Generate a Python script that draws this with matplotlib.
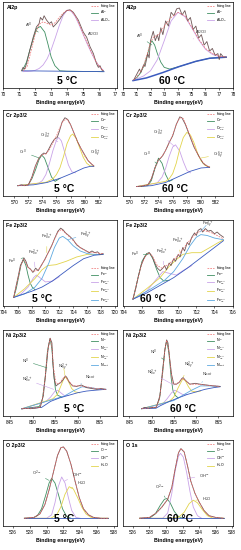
import matplotlib.pyplot as plt

plt.rcParams['font.family'] = ['Liberation Sans', 'DejaVu Sans']

# ---------------- Al2p, 5 C ----------------
al5_spec_x = [71.15, 71.25, 71.35, 71.46, 71.67, 71.88, 72.08, 72.25, 72.33, 72.46, 72.56, 72.71, 72.88, 73.02, 73.13,
              73.33, 73.54, 73.75, 73.96, 74.17, 74.38, 74.69, 75.0, 75.21, 75.42, 75.63, 75.83, 75.94, 76.04, 76.15, 76.25]
al5_spec = [0.20, 0.24, 0.22, 0.28, 0.44, 0.59, 0.71, 0.75, 0.82, 0.79, 0.84, 0.79, 0.75, 0.77, 0.71,
            0.75, 0.80, 0.86, 0.90, 0.91, 0.88, 0.79, 0.65, 0.59, 0.48, 0.40, 0.28, 0.24, 0.26, 0.21, 0.20]
al5_fit_x = [71.25, 71.5, 71.75, 72.0, 72.25, 72.5, 72.75, 73.0, 73.25, 73.5, 73.75, 74.0, 74.25, 74.5, 74.75,
             75.0, 75.25, 75.5, 75.75, 76.0, 76.25]
al5_fit = [0.20, 0.25, 0.43, 0.62, 0.74, 0.77, 0.75, 0.73, 0.76, 0.82, 0.87, 0.905, 0.90, 0.84, 0.74,
           0.63, 0.52, 0.42, 0.32, 0.25, 0.20]
al5_c1_x = [71.2, 71.46, 71.67, 71.88, 72.08, 72.33, 72.6, 72.8, 73.0, 73.23, 73.54, 73.96, 76.25]
al5_c1 = [0.20, 0.30, 0.44, 0.57, 0.69, 0.716, 0.65, 0.51, 0.36, 0.26, 0.20, 0.195, 0.19]
al5_c2_x = al5_fit_x
al5_c2 = [0.19, 0.192, 0.196, 0.205, 0.227, 0.268, 0.34, 0.445, 0.58, 0.723, 0.844, 0.906, 0.892, 0.83, 0.73,
          0.62, 0.51, 0.41, 0.32, 0.25, 0.205]
al5_bg_x = [71.2, 76.3]
al5_bg = [0.20, 0.19]

# ---------------- Al2p, 60 C ----------------
al60_spec_x = [70.8, 71.0, 71.2, 71.3, 71.5, 71.6, 71.8, 71.9, 72.0, 72.2, 72.35, 72.5, 72.6, 72.75, 72.9, 73.1, 73.3,
               73.5, 73.7, 73.9, 74.1, 74.3, 74.5, 74.7, 74.9, 75.1, 75.3, 75.5, 75.7, 75.9, 76.1, 76.3, 76.5, 76.7,
               76.9, 77.0, 77.1, 77.3, 77.5]
al60_spec = [0.10, 0.16, 0.22, 0.18, 0.27, 0.25, 0.40, 0.35, 0.55, 0.66, 0.55, 0.62, 0.55, 0.70, 0.62, 0.78, 0.72,
             0.88, 0.84, 0.92, 0.93, 0.85, 0.90, 0.78, 0.82, 0.68, 0.72, 0.58, 0.62, 0.50, 0.54, 0.43, 0.46, 0.38,
             0.40, 0.33, 0.40, 0.36, 0.36]
al60_fit_x = [70.75, 71.0, 71.25, 71.5, 71.75, 72.0, 72.25, 72.5, 72.75, 73.0, 73.5, 74.0, 74.5, 75.0, 75.5, 76.0,
              76.5, 77.0, 77.5]
al60_fit = [0.09, 0.13, 0.18, 0.26, 0.39, 0.53, 0.60, 0.61, 0.65, 0.72, 0.82, 0.88, 0.84, 0.71, 0.57, 0.46,
            0.40, 0.37, 0.36]
al60_c1_x = [70.75, 71.0, 71.25, 71.5, 71.75, 72.0, 72.1, 72.3, 72.5, 72.75, 73.0, 73.4, 74.1, 75.3, 76.3, 77.5]
al60_c1 = [0.09, 0.12, 0.17, 0.25, 0.37, 0.52, 0.55, 0.50, 0.40, 0.30, 0.24, 0.22, 0.25, 0.31, 0.346, 0.358]
al60_c2_x = [70.75, 71.5, 72.0, 72.5, 73.0, 73.5, 74.0, 74.5, 75.0, 75.5, 76.0, 76.5, 77.0, 77.5]
al60_c2 = [0.09, 0.14, 0.20, 0.33, 0.55, 0.78, 0.88, 0.83, 0.70, 0.56, 0.45, 0.39, 0.365, 0.36]
al60_bg_x = [70.73, 71.7, 72.9, 74.1, 75.3, 76.3, 77.5]
al60_bg = [0.086, 0.117, 0.18, 0.25, 0.31, 0.346, 0.358]

# ---------------- Cr 2p3/2, 5 C ----------------
cr5_spec_x = [570.5, 571.0, 571.5, 572.0, 572.5, 573.0, 573.5, 573.9, 574.2, 574.5, 574.8, 575.3, 575.7, 576.1,
              576.4, 576.8, 577.2, 577.6, 578.0, 578.5, 579.0, 579.5, 580.0, 580.5, 581.0, 581.3]
cr5_spec = [0.12, 0.13, 0.12, 0.13, 0.22, 0.35, 0.44, 0.48, 0.50, 0.49, 0.53, 0.61, 0.66, 0.68,
            0.75, 0.86, 0.91, 0.89, 0.83, 0.73, 0.63, 0.55, 0.48, 0.41, 0.37, 0.35]
cr5_fit_x = [570.5, 571.5, 572.0, 572.5, 573.0, 573.5, 574.0, 574.5, 575.0, 575.5, 576.0, 576.5, 577.0, 577.5,
             578.0, 578.5, 579.0, 579.5, 580.0, 580.5, 581.3]
cr5_fit = [0.12, 0.12, 0.13, 0.21, 0.34, 0.44, 0.48, 0.49, 0.54, 0.62, 0.70, 0.80, 0.88, 0.89,
           0.83, 0.73, 0.63, 0.55, 0.47, 0.41, 0.35]
cr5_c1_x = [570.5, 572.0, 572.5, 573.0, 573.5, 573.9, 574.3, 574.8, 575.3, 575.8, 576.5]
cr5_c1 = [0.12, 0.13, 0.20, 0.30, 0.42, 0.476, 0.44, 0.33, 0.22, 0.17, 0.206]
cr5_c2_x = [570.5, 573.5, 574.0, 574.5, 575.0, 575.5, 576.0, 576.3, 576.7, 577.2, 577.7, 578.2, 578.7]
cr5_c2 = [0.12, 0.15, 0.18, 0.25, 0.38, 0.53, 0.65, 0.68, 0.64, 0.50, 0.36, 0.28, 0.27]
cr5_c3_x = [570.5, 574.5, 575.0, 575.5, 576.0, 576.5, 577.0, 577.5, 578.0, 578.3, 578.8, 579.3, 579.8, 580.3,
            580.8, 581.3]
cr5_c3 = [0.12, 0.16, 0.18, 0.20, 0.25, 0.33, 0.46, 0.61, 0.70, 0.72, 0.67, 0.56, 0.45, 0.38, 0.35, 0.345]
cr5_bg_x = [570.5, 572.75, 574.65, 576.5, 578.4, 579.9, 580.8, 581.3]
cr5_bg = [0.12, 0.13, 0.157, 0.206, 0.27, 0.326, 0.345, 0.345]

# ---------------- Cr 2p3/2, 60 C ----------------
cr60_spec_x = [570.9, 571.5, 572.0, 572.5, 573.0, 573.5, 574.0, 574.3, 574.6, 575.0, 575.5, 576.0, 576.5, 577.0,
               577.3, 577.8, 578.3, 579.0, 579.7, 580.3, 580.8, 581.2]
cr60_spec = [0.11, 0.11, 0.12, 0.13, 0.20, 0.33, 0.42, 0.44, 0.47, 0.53, 0.62, 0.70, 0.83, 0.92,
             0.91, 0.83, 0.72, 0.57, 0.46, 0.38, 0.35, 0.335]
cr60_fit_x = [570.9, 572.0, 572.5, 573.0, 573.5, 574.0, 574.5, 575.0, 575.5, 576.0, 576.5, 577.0, 577.5, 578.0,
              578.5, 579.0, 579.5, 580.0, 580.5, 581.2]
cr60_fit = [0.11, 0.12, 0.13, 0.20, 0.32, 0.42, 0.46, 0.53, 0.62, 0.71, 0.83, 0.91, 0.90, 0.80,
            0.69, 0.58, 0.49, 0.42, 0.37, 0.335]
cr60_c1_x = [570.9, 572.5, 573.0, 573.5, 574.0, 574.5, 575.0, 575.5, 576.0]
cr60_c1 = [0.11, 0.12, 0.18, 0.32, 0.44, 0.38, 0.25, 0.17, 0.19]
cr60_c2_x = [570.9, 573.8, 574.5, 575.0, 575.5, 576.0, 576.4, 577.0, 577.5, 578.0, 578.5]
cr60_c2 = [0.11, 0.15, 0.22, 0.32, 0.46, 0.57, 0.595, 0.52, 0.40, 0.30, 0.27]
cr60_c3_x = [570.9, 575.0, 575.5, 576.0, 576.5, 577.0, 577.5, 578.0, 578.5, 579.0, 579.5, 580.0, 580.5, 581.2]
cr60_c3 = [0.11, 0.17, 0.20, 0.26, 0.38, 0.55, 0.68, 0.74, 0.71, 0.62, 0.50, 0.41, 0.36, 0.335]
cr60_bg_x = [570.9, 573.0, 575.0, 577.0, 578.5, 580.0, 581.2]
cr60_bg = [0.11, 0.12, 0.157, 0.232, 0.288, 0.326, 0.333]

# ---------------- Fe 2p3/2, 5 C ----------------
fe5_spec_x = [705.44, 705.8, 706.1, 706.4, 706.7, 706.9, 707.2, 707.5, 707.85, 708.2, 708.6, 708.95, 709.4, 709.9,
              710.4, 710.9, 711.35, 711.8, 712.2, 712.55, 712.9, 713.5, 714.0, 714.5, 715.0, 715.45, 715.9, 716.3,
              716.7, 717.1, 717.5, 717.85, 718.3]
fe5_spec = [0.10, 0.24, 0.35, 0.47, 0.52, 0.56, 0.52, 0.45, 0.43, 0.39, 0.44, 0.41, 0.47, 0.54,
            0.62, 0.70, 0.79, 0.87, 0.905, 0.885, 0.85, 0.81, 0.77, 0.71, 0.68, 0.66, 0.64, 0.62,
            0.64, 0.62, 0.63, 0.60, 0.61]
fe5_fit_x = [705.44, 706.0, 706.5, 706.9, 707.5, 708.2, 709.0, 710.0, 711.0, 711.8, 712.3, 713.0, 714.0, 715.0,
             716.0, 717.0, 718.3]
fe5_fit = [0.10, 0.30, 0.48, 0.54, 0.45, 0.40, 0.42, 0.55, 0.72, 0.86, 0.89, 0.84, 0.76, 0.68, 0.63, 0.62, 0.61]
fe5_c1_x = [705.44, 705.8, 706.2, 706.5, 706.85, 707.2, 707.5, 707.8, 708.1, 708.5]
fe5_c1 = [0.10, 0.20, 0.36, 0.48, 0.54, 0.47, 0.36, 0.27, 0.22, 0.19]
fe5_c2_x = [705.44, 706.5, 707.5, 708.3, 708.7, 709.2, 710.0, 711.0, 712.0]
fe5_c2 = [0.10, 0.14, 0.22, 0.33, 0.36, 0.33, 0.28, 0.29, 0.34]
fe5_c3_x = [705.44, 707.0, 708.5, 709.5, 710.3, 711.5, 713.0, 714.5, 716.0, 718.3]
fe5_c3 = [0.10, 0.20, 0.32, 0.42, 0.47, 0.48, 0.52, 0.57, 0.60, 0.60]
fe5_c4_x = [705.44, 707.0, 708.5, 709.5, 710.5, 711.3, 712.0, 712.5, 713.2, 714.0, 715.0, 716.0, 717.0, 718.3]
fe5_c4 = [0.10, 0.14, 0.22, 0.32, 0.50, 0.68, 0.79, 0.81, 0.77, 0.70, 0.64, 0.61, 0.60, 0.60]
fe5_bg_x = [705.44, 706.5, 708.0, 709.5, 711.0, 712.5, 714.0, 715.5, 717.0, 718.3]
fe5_bg = [0.10, 0.13, 0.17, 0.22, 0.29, 0.38, 0.47, 0.55, 0.59, 0.60]

# ---------------- Fe 2p3/2, 60 C ----------------
fe60_spec_x = [705.0, 705.3, 705.6, 705.9, 706.2, 706.5, 706.8, 707.1, 707.4, 707.7, 708.0, 708.3, 708.5, 708.7,
               709.0, 709.2, 709.5, 709.7, 710.0, 710.2, 710.5, 710.7, 711.0, 711.2, 711.5, 711.8, 712.0, 712.2,
               712.5, 712.7, 713.0, 713.3, 713.6, 714.0, 714.3, 714.6, 715.0]
fe60_spec = [0.08, 0.20, 0.35, 0.47, 0.55, 0.60, 0.62, 0.58, 0.50, 0.44, 0.41, 0.44, 0.47, 0.42,
             0.50, 0.47, 0.55, 0.52, 0.60, 0.57, 0.68, 0.64, 0.74, 0.71, 0.80, 0.85, 0.82, 0.88,
             0.90, 0.86, 0.90, 0.87, 0.88, 0.84, 0.86, 0.83, 0.80]
fe60_fit_x = [705.0, 705.5, 706.0, 706.5, 706.8, 707.2, 707.7, 708.2, 709.0, 710.0, 711.0, 712.0, 712.7, 713.5,
              714.3, 715.0]
fe60_fit = [0.08, 0.30, 0.50, 0.60, 0.62, 0.57, 0.47, 0.44, 0.49, 0.59, 0.73, 0.85, 0.88, 0.86, 0.82, 0.78]
fe60_c1_x = [705.0, 705.5, 706.0, 706.5, 706.8, 707.2, 707.6, 708.0, 708.4, 709.0]
fe60_c1 = [0.08, 0.30, 0.52, 0.61, 0.62, 0.55, 0.43, 0.33, 0.29, 0.30]
fe60_c2_x = [705.0, 706.5, 707.5, 708.3, 709.0, 709.8, 710.5, 711.5]
fe60_c2 = [0.08, 0.17, 0.30, 0.40, 0.38, 0.36, 0.41, 0.47]
fe60_c3_x = [705.0, 706.5, 708.0, 709.0, 709.8, 710.5, 711.5, 712.5, 713.5, 714.3, 715.0]
fe60_c3 = [0.08, 0.20, 0.33, 0.46, 0.54, 0.60, 0.62, 0.62, 0.68, 0.73, 0.77]
fe60_c4_x = [705.0, 707.0, 708.5, 709.5, 710.5, 711.3, 712.0, 712.5, 713.2, 714.0, 715.0]
fe60_c4 = [0.08, 0.20, 0.30, 0.40, 0.55, 0.70, 0.80, 0.83, 0.82, 0.79, 0.77]
fe60_bg_x = [705.0, 706.5, 708.0, 709.5, 711.0, 712.5, 714.0, 715.0]
fe60_bg = [0.08, 0.15, 0.24, 0.33, 0.44, 0.56, 0.68, 0.76]

# ---------------- Ni 2p3/2, 5 C ----------------
ni5_spec_x = [847.6, 848.5, 849.5, 850.5, 851.7, 852.4, 853.0, 853.5, 853.9, 854.3, 854.5, 854.8, 855.2, 855.7,
              856.3, 856.9, 857.3, 857.6, 858.2, 858.9, 859.8, 860.9, 862.0, 863.1, 864.3, 865.2, 866.3]
ni5_spec = [0.084, 0.09, 0.085, 0.09, 0.10, 0.24, 0.54, 0.81, 0.905, 0.85, 0.62, 0.43, 0.35, 0.37,
            0.39, 0.43, 0.466, 0.45, 0.39, 0.35, 0.344, 0.36, 0.33, 0.32, 0.31, 0.32, 0.31]
ni5_fit_x = [847.6, 851.5, 852.2, 852.8, 853.3, 853.9, 854.3, 854.7, 855.2, 856.0, 856.8, 857.3, 858.0, 859.0,
             860.5, 862.0, 864.0, 866.3]
ni5_fit = [0.084, 0.10, 0.20, 0.45, 0.75, 0.90, 0.80, 0.55, 0.38, 0.38, 0.44, 0.46, 0.41, 0.35,
           0.35, 0.34, 0.32, 0.31]
ni5_c1_x = [847.6, 851.5, 852.2, 852.8, 853.3, 853.9, 854.3, 854.7, 855.1, 855.6, 856.5]
ni5_c1 = [0.084, 0.11, 0.20, 0.45, 0.75, 0.90, 0.78, 0.50, 0.30, 0.24, 0.22]
ni5_c2_x = [847.6, 853.0, 854.0, 855.0, 855.6, 856.3, 857.0, 858.0]
ni5_c2 = [0.084, 0.17, 0.22, 0.29, 0.30, 0.27, 0.24, 0.24]
ni5_c3_x = [847.6, 854.5, 855.5, 856.3, 857.0, 857.4, 858.0, 858.7, 859.5, 860.5]
ni5_c3 = [0.084, 0.20, 0.25, 0.35, 0.44, 0.45, 0.40, 0.32, 0.28, 0.27]
ni5_c4_x = [847.6, 855.0, 857.0, 859.0, 861.0, 863.0, 865.0, 866.3]
ni5_c4 = [0.084, 0.20, 0.23, 0.29, 0.34, 0.33, 0.31, 0.31]
ni5_bg_x = [847.6, 852.0, 854.0, 856.0, 858.0, 860.0, 862.0, 864.0, 866.3]
ni5_bg = [0.084, 0.10, 0.17, 0.21, 0.24, 0.27, 0.29, 0.30, 0.31]

# ---------------- Ni 2p3/2, 60 C ----------------
ni60_spec_x = [847.8, 848.5, 849.3, 850.2, 851.1, 851.9, 852.5, 853.0, 853.4, 853.7, 854.1, 854.5, 855.0, 855.6,
               856.2, 856.8, 857.1, 857.7, 858.6, 859.8, 860.9, 862.4, 863.9, 865.4]
ni60_spec = [0.085, 0.10, 0.09, 0.10, 0.10, 0.24, 0.54, 0.77, 0.885, 0.85, 0.66, 0.485, 0.37, 0.37,
             0.39, 0.435, 0.447, 0.41, 0.37, 0.38, 0.37, 0.36, 0.35, 0.344]
ni60_fit_x = [847.8, 851.0, 851.8, 852.5, 853.0, 853.4, 853.9, 854.4, 854.8, 855.5, 856.3, 857.0, 857.7, 858.6,
              860.0, 862.0, 865.4]
ni60_fit = [0.085, 0.10, 0.20, 0.50, 0.77, 0.88, 0.76, 0.50, 0.38, 0.37, 0.40, 0.44, 0.41, 0.37, 0.37, 0.36, 0.344]
ni60_c1_x = [847.8, 851.0, 851.8, 852.5, 853.0, 853.4, 853.9, 854.4, 854.8, 855.3, 856.0]
ni60_c1 = [0.085, 0.10, 0.20, 0.50, 0.77, 0.88, 0.74, 0.45, 0.30, 0.24, 0.21]
ni60_c2_x = [847.8, 852.5, 853.5, 854.5, 855.2, 856.0, 857.0, 858.0]
ni60_c2 = [0.085, 0.14, 0.20, 0.27, 0.30, 0.28, 0.25, 0.25]
ni60_c3_x = [847.8, 854.0, 855.0, 856.0, 857.0, 857.6, 858.3, 859.0, 860.0, 861.0]
ni60_c3 = [0.085, 0.17, 0.22, 0.33, 0.43, 0.41, 0.34, 0.29, 0.28, 0.29]
ni60_c4_x = [847.8, 855.0, 857.0, 859.0, 861.0, 863.0, 865.4]
ni60_c4 = [0.085, 0.18, 0.24, 0.30, 0.35, 0.35, 0.344]
ni60_bg_x = [847.8, 851.0, 852.0, 854.0, 856.0, 858.0, 860.0, 862.0, 864.0, 865.4]
ni60_bg = [0.085, 0.09, 0.12, 0.17, 0.21, 0.25, 0.28, 0.31, 0.33, 0.34]

# ---------------- O, 5 C ----------------
o5_spec_x = [527.35, 528.5, 529.2, 529.8, 530.3, 530.8, 531.3, 531.7, 532.0, 532.4, 532.9, 533.4, 533.9, 534.4,
             535.0, 535.6, 536.5, 537.35]
o5_spec = [0.09, 0.10, 0.14, 0.25, 0.42, 0.62, 0.82, 0.91, 0.92, 0.87, 0.72, 0.52, 0.33, 0.20,
           0.13, 0.10, 0.09, 0.09]
o5_c1_x = [527.35, 528.3, 528.9, 529.4, 529.9, 530.3, 530.6, 531.0, 531.4, 531.9, 532.4, 532.9]
o5_c1 = [0.09, 0.09, 0.12, 0.20, 0.36, 0.50, 0.554, 0.50, 0.37, 0.20, 0.11, 0.09]
o5_c2_x = [527.35, 530.0, 530.6, 531.0, 531.4, 531.8, 532.2, 532.6, 533.0, 533.5, 534.0]
o5_c2 = [0.09, 0.09, 0.13, 0.27, 0.46, 0.57, 0.50, 0.33, 0.18, 0.10, 0.09]
o5_c3_x = [527.35, 530.5, 531.2, 531.7, 532.2, 532.7, 533.2, 533.7, 534.2, 534.7, 535.3, 536.0, 537.35]
o5_c3 = [0.09, 0.09, 0.13, 0.22, 0.37, 0.457, 0.43, 0.33, 0.22, 0.14, 0.10, 0.09, 0.09]
o5_bg_x = [527.35, 537.35]
o5_bg = [0.09, 0.09]

# ---------------- O 1s, 60 C ----------------
o60_spec_x = [526.8, 528.0, 528.8, 529.5, 530.2, 530.7, 531.1, 531.5, 531.8, 532.2, 532.6, 533.0, 533.5, 534.0,
              534.6, 535.2, 536.0, 537.0]
o60_spec = [0.09, 0.10, 0.15, 0.22, 0.31, 0.45, 0.66, 0.85, 0.90, 0.86, 0.70, 0.52, 0.38, 0.28,
            0.18, 0.12, 0.10, 0.09]
o60_c1_x = [526.8, 528.0, 528.7, 529.3, 529.8, 530.1, 530.5, 531.0, 531.5, 532.0]
o60_c1 = [0.09, 0.09, 0.14, 0.24, 0.31, 0.32, 0.27, 0.17, 0.11, 0.09]
o60_c2_x = [526.8, 529.6, 530.2, 530.7, 531.1, 531.5, 531.75, 532.1, 532.5, 532.9, 533.3, 533.8, 534.3]
o60_c2 = [0.09, 0.09, 0.15, 0.38, 0.64, 0.81, 0.845, 0.80, 0.62, 0.40, 0.22, 0.12, 0.09]
o60_c3_x = [526.8, 530.5, 531.5, 532.2, 532.8, 533.3, 533.8, 534.4, 535.0, 535.7, 537.0]
o60_c3 = [0.09, 0.09, 0.10, 0.16, 0.26, 0.30, 0.27, 0.19, 0.12, 0.09, 0.09]
o60_bg_x = [526.8, 537.0]
o60_bg = [0.09, 0.09]

# labels
titles = ['Al2p', 'Al2p', 'Cr 2p3/2', 'Cr 2p3/2', 'Fe 2p3/2', 'Fe 2p3/2', 'Ni 2p3/2', 'Ni 2p3/2', 'O 2p3/2', 'O 1s']
temps = ['5 °C', '60 °C'] * 5
al_names = ['fitting line', 'Al$^{0}$', 'Al$_2$O$_3$']
cr_names = ['fitting line', 'Cr$^{0}$', 'Cr$^{3+}_{ox}$', 'Cr$^{3+}_{hy}$']
fe_names = ['fitting line', 'Fe$^{0}$', 'Fe$^{2+}_{ox}$', 'Fe$^{3+}_{ox}$', 'Fe$^{3+}_{hy}$']
ni_names = ['fitting line', 'Ni$^{0}$', 'Ni$^{2+}_{ox}$', 'Ni$^{2+}_{hy}$', 'Ni$_{sat}$']
o_names = ['fitting line', 'O$^{2-}$', 'OH$^{-}$', 'H$_2$O']
al_ticks = [70, 71, 72, 73, 74, 75, 76, 77, 78]
cr_ticks = [570, 572, 574, 576, 578, 580, 582]
fe_ticks = [704, 706, 708, 710, 712, 714, 716, 718, 720]
ni_ticks = [845, 850, 855, 860, 865]
o_ticks = [526, 528, 530, 532, 534, 536, 538]

panels = [
    dict(spec=(al5_spec_x, al5_spec), fit=(al5_fit_x, al5_fit), bg=(al5_bg_x, al5_bg),
         comps=[(al5_c1_x, al5_c1), (al5_c2_x, al5_c2)], names=al_names, ticks=al_ticks),
    dict(spec=(al60_spec_x, al60_spec), fit=(al60_fit_x, al60_fit), bg=(al60_bg_x, al60_bg),
         comps=[(al60_c1_x, al60_c1), (al60_c2_x, al60_c2)], names=al_names, ticks=al_ticks),
    dict(spec=(cr5_spec_x, cr5_spec), fit=(cr5_fit_x, cr5_fit), bg=(cr5_bg_x, cr5_bg),
         comps=[(cr5_c1_x, cr5_c1), (cr5_c2_x, cr5_c2), (cr5_c3_x, cr5_c3)], names=cr_names, ticks=cr_ticks),
    dict(spec=(cr60_spec_x, cr60_spec), fit=(cr60_fit_x, cr60_fit), bg=(cr60_bg_x, cr60_bg),
         comps=[(cr60_c1_x, cr60_c1), (cr60_c2_x, cr60_c2), (cr60_c3_x, cr60_c3)], names=cr_names, ticks=cr_ticks),
    dict(spec=(fe5_spec_x, fe5_spec), fit=(fe5_fit_x, fe5_fit), bg=(fe5_bg_x, fe5_bg),
         comps=[(fe5_c1_x, fe5_c1), (fe5_c2_x, fe5_c2), (fe5_c3_x, fe5_c3), (fe5_c4_x, fe5_c4)],
         names=fe_names, ticks=fe_ticks),
    dict(spec=(fe60_spec_x, fe60_spec), fit=(fe60_fit_x, fe60_fit), bg=(fe60_bg_x, fe60_bg),
         comps=[(fe60_c1_x, fe60_c1), (fe60_c2_x, fe60_c2), (fe60_c3_x, fe60_c3), (fe60_c4_x, fe60_c4)],
         names=fe_names, ticks=fe_ticks),
    dict(spec=(ni5_spec_x, ni5_spec), fit=(ni5_fit_x, ni5_fit), bg=(ni5_bg_x, ni5_bg),
         comps=[(ni5_c1_x, ni5_c1), (ni5_c2_x, ni5_c2), (ni5_c3_x, ni5_c3), (ni5_c4_x, ni5_c4)],
         names=ni_names, ticks=ni_ticks),
    dict(spec=(ni60_spec_x, ni60_spec), fit=(ni60_fit_x, ni60_fit), bg=(ni60_bg_x, ni60_bg),
         comps=[(ni60_c1_x, ni60_c1), (ni60_c2_x, ni60_c2), (ni60_c3_x, ni60_c3), (ni60_c4_x, ni60_c4)],
         names=ni_names, ticks=ni_ticks),
    dict(spec=(o5_spec_x, o5_spec), fit=(o5_spec_x, o5_spec), bg=(o5_bg_x, o5_bg),
         comps=[(o5_c1_x, o5_c1), (o5_c2_x, o5_c2), (o5_c3_x, o5_c3)], names=o_names, ticks=o_ticks),
    dict(spec=(o60_spec_x, o60_spec), fit=(o60_spec_x, o60_spec), bg=(o60_bg_x, o60_bg),
         comps=[(o60_c1_x, o60_c1), (o60_c2_x, o60_c2), (o60_c3_x, o60_c3)], names=o_names, ticks=o_ticks),
]

# ---- layout / style ----
xlims = [(70, 77.1), (70, 78), (568.4, 584.6), (569, 584.5), (703.9, 720.3), (703.9, 716.05),
         (843.4, 868.8), (843.6, 868.3), (524.8, 538.4), (524.8, 538.1)]
temp_x = [0.56, 0.45, 0.54, 0.47, 0.34, 0.27, 0.62, 0.55, 0.54, 0.52]
leg_loc = ['upper right'] * 4 + ['lower right'] * 2 + ['upper right'] * 4
comp_colors = ['#3f8f62', '#c9a3e8', '#e2d44c', '#5ea9e0']
notes = [
    [('Al$^{0}$', (71.6, 0.73), (72.2, 0.65), 0), ('Al$_2$O$_3$', (75.6, 0.62), (74.95, 0.68), 1)],
    [('Al$^{0}$', (71.2, 0.6), (72.1, 0.5), 0), ('Al$_2$O$_3$', (75.7, 0.65), (75.1, 0.57), 1)],
    [('Cr$^{0}$', (571.3, 0.51), (573.6, 0.44), 0), ('Cr$^{3+}_{ox}$', (574.5, 0.70), (576.2, 0.63), 1),
     ('Cr$^{6+}_{hy}$', (581.5, 0.50), (579.9, 0.46), 2)],
    [('Cr$^{0}$', (572.4, 0.49), (573.8, 0.37), 0), ('Cr$^{3+}_{ox}$', (574.0, 0.74), (576.2, 0.58), 1),
     ('Cr$^{6+}_{hy}$', (582.4, 0.48), (579.9, 0.44), 2)],
    [('Fe$^{0}$', (705.3, 0.52), (706.8, 0.56), 0), ('Fe$^{2+}_{ox}$', (708.3, 0.62), (708.5, 0.45), 1),
     ('Fe$^{3+}_{ox}$', (710.2, 0.80), (710.2, 0.62), 2), ('Fe$^{3+}_{hy}$', (715.8, 0.83), (713.2, 0.77), 3)],
    [('Fe$^{0}$', (705.2, 0.6), (706.7, 0.6), 0), ('Fe$^{2+}_{ox}$', (708.2, 0.63), (708.4, 0.48), 1),
     ('Fe$^{3+}_{ox}$', (709.9, 0.76), (710.2, 0.63), 2), ('Fe$^{3+}_{hy}$', (713.2, 0.95), (712.4, 0.86), 3)],
    [('Ni$^{0}$', (848.4, 0.64), (853.2, 0.56), 0), ('Ni$^{2+}_{ox}$', (848.8, 0.42), (854.7, 0.31), 1),
     ('Ni$^{2+}_{hy}$', (856.9, 0.57), (857.2, 0.47), 2), ('Ni$_{sat}$', (862.9, 0.45), (860.7, 0.37), 3)],
    [('Ni$^{0}$', (850.5, 0.74), (852.9, 0.65), 0), ('Ni$^{2+}_{ox}$', (850.1, 0.5), (855.0, 0.36), 1),
     ('Ni$^{2+}_{hy}$', (858.4, 0.59), (857.1, 0.45), 2), ('Ni$_{sat}$', (862.6, 0.49), (861.3, 0.39), 3)],
    [('O$^{2-}$', (528.8, 0.61), (530.3, 0.53), 0), ('OH$^{-}$', (533.6, 0.6), (532.1, 0.52), 1),
     ('H$_2$O', (534.2, 0.5), (532.9, 0.44), 2)],
    [('O$^{2-}$', (529.2, 0.45), (529.9, 0.33), 0), ('OH$^{-}$', (534.6, 0.59), (532.6, 0.55), 1),
     ('H$_2$O', (535.0, 0.31), (533.6, 0.3), 2)],
]

W, H = 241, 550
fig = plt.figure(figsize=(W / 100, H / 100), dpi=100)
row_top = [2, 110, 220, 330, 440]
for i, p in enumerate(panels):
    r, c = divmod(i, 2)
    x0, w = (3, 114) if c == 0 else (123, 110)
    ax = fig.add_axes([x0 / W, 1 - (row_top[r] + 86) / H, w / W, 86 / H])
    handles = []
    for k, (cx, cy) in enumerate(p['comps']):
        h, = ax.plot(cx, cy, color=comp_colors[k], lw=0.6)
        handles.append(h)
    ax.plot(*p['bg'], color='#3b5bbf', lw=1.1 if i == 1 else 0.6)
    ax.plot(*p['spec'], color='#6e5656', lw=0.6)
    hf, = ax.plot(*p['fit'], color='#ee6e6e', lw=0.5, dashes=(2.5, 1.5))
    ax.legend([hf] + handles, p['names'], loc=leg_loc[i], fontsize=2.5, frameon=False,
              handlelength=2.2, handletextpad=0.5, labelspacing=0.1, borderaxespad=0.25)
    for txt, tpos, target, k in notes[i]:
        ax.annotate(txt, xy=target, xytext=tpos, fontsize=3, color='#333333', ha='center', va='center',
                    arrowprops=dict(arrowstyle='-', color=comp_colors[k], lw=0.4, shrinkA=1, shrinkB=0))
    ax.set_xlim(*xlims[i])
    ax.set_ylim(0, 1)
    ax.set_xticks([t for t in p['ticks'] if xlims[i][0] - 0.01 <= t <= xlims[i][1] + 0.3])
    ax.set_yticks([])
    ax.tick_params(axis='x', labelsize=3.3, length=1.5, width=0.4, pad=1.2)
    for s in ax.spines.values():
        s.set_linewidth(0.5)
    ax.set_xlabel('Binding energy(eV)', fontsize=3.8, fontweight='bold', labelpad=2)
    ax.text(0.03, 0.97, titles[i], transform=ax.transAxes, fontsize=3.8, fontweight='bold', va='top')
    ax.text(temp_x[i], 0.08, temps[i], transform=ax.transAxes, fontsize=7.5, fontweight='bold',
            ha='center', va='center')

fig.savefig('out.png', dpi=100)
